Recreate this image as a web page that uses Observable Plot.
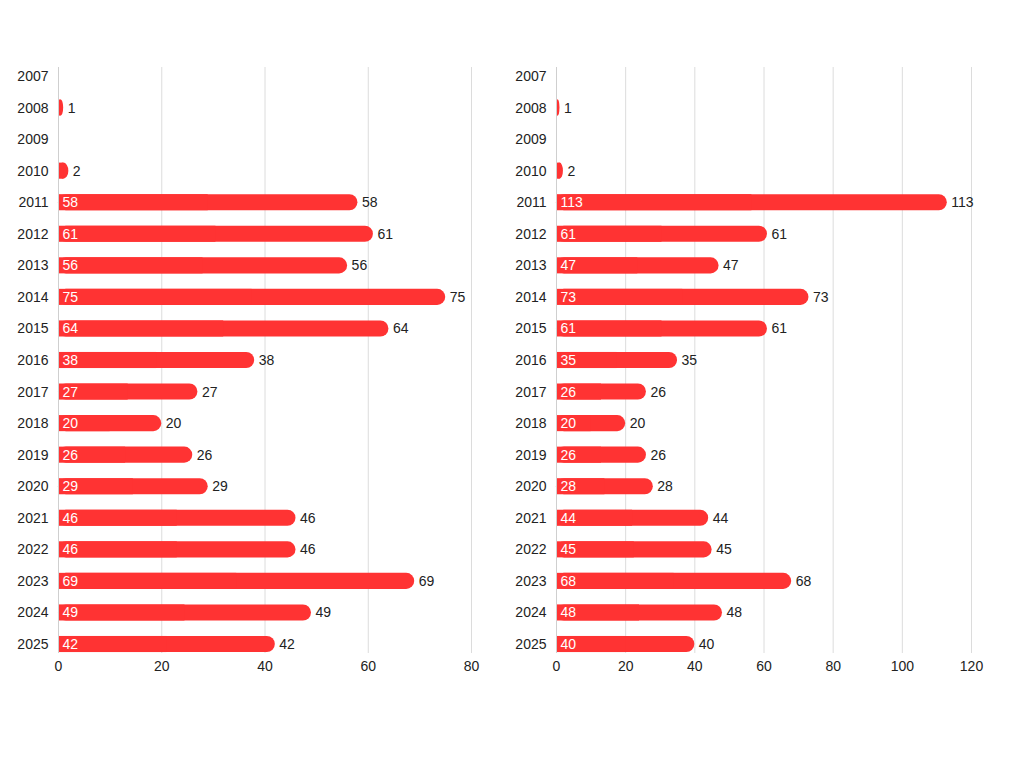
<!DOCTYPE html>
<html>
<head>
<meta charset="utf-8">
<script src="https://cdn.jsdelivr.net/npm/d3@7"></script>
<script src="https://cdn.jsdelivr.net/npm/@observablehq/plot@0.6"></script>
<style>
  body { margin: 0; background: #fff; font-family: "Liberation Sans", Arial, sans-serif; }
  #wrap { display: flex; width: 1024px; }
  #wrap > div { width: 512px; }
</style>
</head>
<body>
<div id="wrap"><div id="left"></div><div id="right"></div></div>
<script>
const years = ["2007","2008","2009","2010","2011","2012","2013","2014","2015","2016","2017","2018","2019","2020","2021","2022","2023","2024","2025"];
const leftValues = [0, 1, 0, 2, 58, 61, 56, 75, 64, 38, 27, 20, 26, 29, 46, 46, 69, 49, 42];
const rightValues = [0, 1, 0, 2, 113, 61, 47, 73, 61, 35, 26, 20, 26, 28, 44, 45, 68, 48, 40];
const leftTicks = [0, 20, 40, 60, 80];
const rightTicks = [0, 20, 40, 60, 80, 100, 120];

const RED = "#ff3333";

function makeChart(values, ticks, marginLeft, marginRight) {
  const data = years.map((y, i) => ({year: y, value: values[i]}));
  const bars = data.filter(d => d.value > 0);
  const xmax = ticks[ticks.length - 1];
  return Plot.plot({
    width: 512,
    height: 700,
    marginTop: 67,
    marginBottom: 47,
    marginLeft,
    marginRight,
    style: {fontFamily: "'Liberation Sans', Arial, sans-serif", fontSize: "14px", color: "#222", background: "#fff"},
    x: {domain: [0, xmax], ticks, tickSize: 0, tickPadding: 8, label: null, tickFormat: d => String(d)},
    y: {domain: years, paddingInner: 0.49, paddingOuter: 0.03, round: false, tickSize: 0, tickPadding: 10, label: null},
    marks: [
      Plot.gridX(ticks, {stroke: "#dcdcdc", strokeOpacity: 1}),
      Plot.barX(bars, {y: "year", x: "value", fill: RED, rx: 8}),
      Plot.barX(bars, {y: "year", x1: 0, x2: d => d.value / 2, fill: RED}),
      Plot.ruleX([0], {stroke: "#cfcfcf"}),
      Plot.text(bars.filter(d => d.value >= 5), {y: "year", x: 0, text: d => String(d.value), textAnchor: "start", dx: 4, fill: "#fff", fontSize: 14}),
      Plot.text(bars, {y: "year", x: "value", text: d => String(d.value), textAnchor: "start", dx: 4, fill: "#222", fontSize: 14})
    ]
  });
}

document.getElementById("left").append(makeChart(leftValues, leftTicks, 58, 41));
document.getElementById("right").append(makeChart(rightValues, rightTicks, 44, 53));
</script>
</body>
</html>
